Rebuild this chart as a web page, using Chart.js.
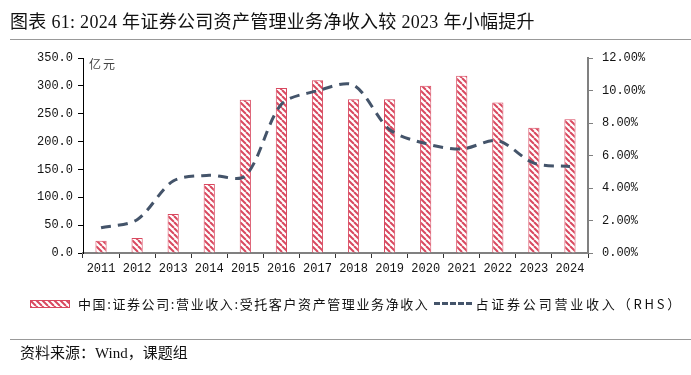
<!DOCTYPE html>
<html>
<head>
<meta charset="utf-8">
<script src="https://cdn.jsdelivr.net/npm/chart.js@4"></script>
<style>
  body{margin:0;width:691px;height:375px;background:#fff;position:relative;overflow:hidden;font-family:"Noto Sans CJK SC",sans-serif;}
  #wrap{position:absolute;left:0;top:0;width:691px;height:375px;}
  .title{position:absolute;left:10px;top:7px;font-family:"Liberation Serif","Noto Sans CJK SC",serif;font-size:18px;letter-spacing:0.3px;color:#111;white-space:nowrap;}
  .hr{position:absolute;left:10px;right:0;height:1px;background:#999;}
  .unit{position:absolute;left:89px;top:55px;font-size:12px;color:#444;letter-spacing:2px;}
  .legend{position:absolute;top:294px;left:30px;font-size:13px;color:#111;white-space:nowrap;display:flex;align-items:center;}
  .t1{letter-spacing:1.6px;}
  .t2{letter-spacing:2.8px;}
  .dash{display:inline-block;width:38px;height:0;border-top:3px dashed #44546a;margin:0 3px 0 5px;}
  .src{position:absolute;left:20px;top:341px;font-family:"Liberation Serif","Noto Sans CJK SC",serif;font-size:15px;color:#111;}
</style>
</head>
<body>
<div id="wrap"><canvas id="myChart" width="691" height="375"></canvas></div>
<div class="title">图表 61: 2024 年证券公司资产管理业务净收入较 2023 年小幅提升</div>
<div class="hr" style="top:39px"></div>
<div class="unit">亿元</div>
<div class="legend">
  <canvas id="swatch" width="40" height="8" style="margin-right:8px"></canvas>
  <span class="t1">中国:证券公司:营业收入:受托客户资产管理业务净收入</span>
  <span class="dash"></span>
  <span class="t2">占证券公司营业收入（RHS）</span>
</div>
<div class="hr" style="top:339px"></div>
<div class="src">资料来源：Wind，课题组</div>
<script>
var years=['2011','2012','2013','2014','2015','2016','2017','2018','2019','2020','2021','2022','2023','2024'];
var income=[22,27,70,124,275,296,310,276,276,300,318,270,225,240];
var share=[1.55,2.05,4.43,4.78,4.75,9.15,9.98,10.33,7.6,6.73,6.4,6.91,5.53,5.32];
var leftTicks=[0,50,100,150,200,250,300,350];
var rightTicks=[0,2,4,6,8,10,12];

function stripes(){
    var c=document.createElement('canvas');
    c.width=6;c.height=6;
    var g=c.getContext('2d');
    g.fillStyle='#fff';g.fillRect(0,0,6,6);
    g.strokeStyle='#d9485f';g.lineWidth=2;
    for(var x=-6;x<=6;x+=6){
        g.beginPath();g.moveTo(x,0);g.lineTo(x+6,6);g.stroke();
    }
    return c;
}
var pat=document.createElement('canvas').getContext('2d').createPattern(stripes(),'repeat');

// legend swatch
var sw=document.getElementById('swatch').getContext('2d');
sw.fillStyle=sw.createPattern(stripes(),'repeat');
sw.fillRect(0,0,40,8);
sw.strokeStyle='#d9485f';sw.lineWidth=1;sw.strokeRect(0.5,0.5,39,7);

var tickFont={family:'"Liberation Mono", monospace',size:12};

const ctx=document.getElementById('myChart').getContext('2d');
const myChart=new Chart(ctx,{
    data:{
        labels:years,
        datasets:[{
            type:'line',
            label:'占证券公司营业收入（RHS）',
            data:share,
            yAxisID:'y1',
            borderColor:'#44546a',
            borderWidth:3,
            borderDash:[10,7],
            pointRadius:0,
            tension:0.3,
            fill:false,
            order:0
        },{
            type:'bar',
            label:'中国:证券公司:营业收入:受托客户资产管理业务净收入',
            data:income,
            yAxisID:'y',
            backgroundColor:pat,
            borderColor:'#d9485f',
            borderWidth:1,
            barPercentage:0.31,
            categoryPercentage:1,
            order:1
        }]
    },
    options:{
        responsive:false,
        animation:false,
        layout:{padding:{left:0,right:43,top:58,bottom:97}},
        plugins:{legend:{display:false},tooltip:{enabled:false}},
        scales:{
            x:{
                offset:true,
                grid:{display:true,offset:true,drawOnChartArea:false,tickLength:5,color:'#333'},
                border:{display:true,color:'#808080',width:2},
                ticks:{font:tickFont,color:'#111',padding:4,maxRotation:0},
                afterFit:function(s){s.height=25;}
            },
            y:{
                position:'left',
                min:0,max:350,
                afterBuildTicks:function(s){s.ticks=leftTicks.map(function(v){return {value:v};});},
                grid:{drawOnChartArea:false,tickLength:5,color:'#000'},
                border:{display:true,color:'#000',width:1},
                ticks:{font:tickFont,color:'#111',padding:5,callback:function(v){return v.toFixed(1);}},
                afterFit:function(s){s.width=83;}
            },
            y1:{
                position:'right',
                min:0,max:12,
                afterBuildTicks:function(s){s.ticks=rightTicks.map(function(v){return {value:v};});},
                grid:{drawOnChartArea:false,tickLength:5,color:'#808080'},
                border:{display:true,color:'#808080',width:2},
                ticks:{font:tickFont,color:'#111',padding:9,callback:function(v){return v.toFixed(2)+'%';}},
                afterFit:function(s){s.width=60;}
            }
        }
    }
});
</script>
</body>
</html>
